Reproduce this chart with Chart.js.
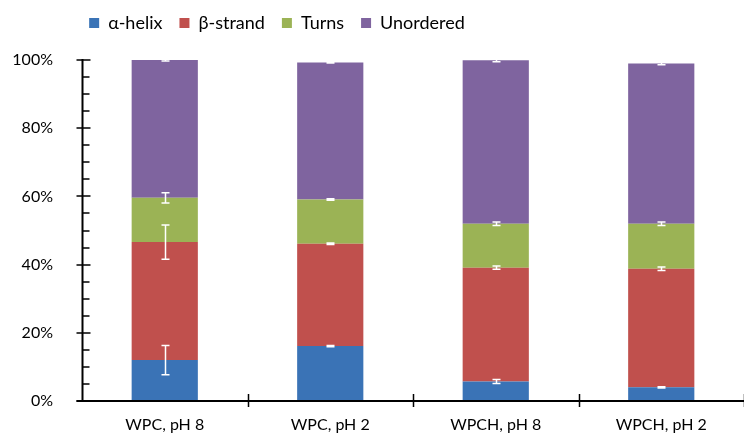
<!DOCTYPE html>
<html>
<head>
<meta charset="utf-8">
<script src="https://cdn.jsdelivr.net/npm/chart.js@4.4.1/dist/chart.umd.min.js"></script>
<style>
  html, body { margin: 0; padding: 0; background: #fff; }
  #wrap { width: 744px; height: 436px; }
</style>
</head>
<body>
<div id="wrap"><canvas id="myChart" width="744" height="436"></canvas></div>
<script>
// categories and series (% of secondary structure)
const categories = ['WPC, pH 8', 'WPC, pH 2', 'WPCH, pH 8', 'WPCH, pH 2'];
const seriesNames = ['α-helix', 'β-strand', 'Turns', 'Unordered'];
const helix = [12.0, 16.1, 5.7, 4.0];
const strand = [34.6, 30.0, 33.4, 34.8];
const turns = [13.0, 13.0, 12.9, 13.2];
const unordered = [40.6, 40.2, 47.9, 47.0];
// error bar half-heights (drawn at the top of each segment)
const helixErr = [4.3, 0.2, 0.6, 0.2];
const strandErr = [5.0, 0.2, 0.5, 0.5];
const turnsErr = [1.5, 0.2, 0.5, 0.5];
const unorderedErr = [0.5, 0.2, 0.4, 0.4];
const yTicks = [0, 20, 40, 60, 80, 100];

const colors = ['#3A73B6', '#C0504D', '#9BB355', '#7F649F'];
const values = [helix, strand, turns, unordered];
const errors = [helixErr, strandErr, turnsErr, unorderedErr];

const FONT = 'Lato, "Open Sans", sans-serif';

// legend sits left of centre and a bit higher, with extra room below it
const legendPlace = {
    id: 'legendPlace',
    afterInit(chart) {
        const lg = chart.legend;
        const fit = lg.fit.bind(lg);
        lg.fit = function () { fit(); this.height += 15; };
    },
    afterLayout(chart) {
        const lg = chart.legend;
        lg.left -= 95; lg.right -= 95;
        lg.top -= 3; lg.bottom -= 3;
    }
};

// axes, tick marks and white error bars
const decorations = {
    id: 'decorations',
    afterDatasetsDraw(chart) {
        const ctx = chart.ctx;
        const x = chart.scales.x;
        const y = chart.scales.y;

        // error bars
        ctx.save();
        ctx.strokeStyle = '#ffffff';
        ctx.lineWidth = 1.5;
        values.forEach((arr, d) => {
            arr.forEach((v, i) => {
                let top = 0;
                for (let k = 0; k <= d; k++) top += values[k][i];
                const e = errors[d][i];
                const cx = Math.round(x.getPixelForValue(i)) + 0.5;
                const y1 = y.getPixelForValue(top + e);
                const y2 = y.getPixelForValue(top - e);
                ctx.beginPath();
                ctx.moveTo(cx, y1); ctx.lineTo(cx, y2);
                ctx.moveTo(cx - 4, y1); ctx.lineTo(cx + 4, y1);
                ctx.moveTo(cx - 4, y2); ctx.lineTo(cx + 4, y2);
                ctx.stroke();
            });
        });
        ctx.restore();

        // axis lines and ticks
        ctx.save();
        ctx.strokeStyle = '#000000';
        ctx.lineWidth = 2;
        const ax = Math.round(x.left) + 0.5;
        const ay = Math.round(y.getPixelForValue(0));
        ctx.beginPath();
        ctx.moveTo(ax, y.getPixelForValue(100) - 1);
        ctx.lineTo(ax, ay);
        ctx.moveTo(ax - 6, ay);
        ctx.lineTo(x.right + 2, ay);
        ctx.stroke();

        ctx.lineWidth = 1.5;
        ctx.beginPath();
        for (let v = 0; v <= 100; v += 5) {
            const py = Math.round(y.getPixelForValue(v));
            if (v % 20 === 0) {
                ctx.moveTo(ax - 6, py); ctx.lineTo(ax + 8, py);
            } else {
                ctx.moveTo(ax, py); ctx.lineTo(ax + 7, py);
            }
        }
        const step = (x.right - x.left) / categories.length;
        for (let i = 1; i <= categories.length; i++) {
            const px = Math.round(x.getPixelForValue(i - 1) + step / 2) + 0.5;
            ctx.moveTo(px, ay - 7); ctx.lineTo(px, ay + 6);
        }
        ctx.stroke();
        ctx.restore();
    }
};

new Chart(document.getElementById('myChart'), {
    type: 'bar',
    data: {
        labels: categories,
        datasets: seriesNames.map((name, d) => ({
            label: name,
            data: values[d],
            backgroundColor: colors[d],
            borderWidth: 0
        }))
    },
    options: {
        responsive: false,
        animation: false,
        devicePixelRatio: 1,
        layout: { padding: { top: 0, right: 0, bottom: 0, left: 0 } },
        datasets: {
            bar: { categoryPercentage: 1.0, barPercentage: 0.4 }
        },
        scales: {
            x: {
                stacked: true,
                grid: { display: false },
                border: { display: false },
                ticks: { color: '#000', font: { family: FONT, size: 16 }, padding: 6 },
                afterFit(scale) { scale.height = 35; }
            },
            y: {
                stacked: true,
                min: 0,
                max: 100,
                afterBuildTicks(scale) { scale.ticks = yTicks.map(v => ({ value: v })); },
                grid: { display: false },
                border: { display: false },
                ticks: {
                    color: '#000',
                    font: { family: FONT, size: 16 },
                    padding: 21,
                    callback: v => v + '%'
                },
                afterFit(scale) { scale.width = 82; }
            }
        },
        plugins: {
            legend: {
                position: 'top',
                labels: {
                    color: '#000',
                    font: { family: FONT, size: 18 },
                    boxWidth: 10,
                    boxHeight: 10,
                    padding: 17
                }
            },
            tooltip: { enabled: false }
        }
    },
    plugins: [legendPlace, decorations]
});
</script>
</body>
</html>
